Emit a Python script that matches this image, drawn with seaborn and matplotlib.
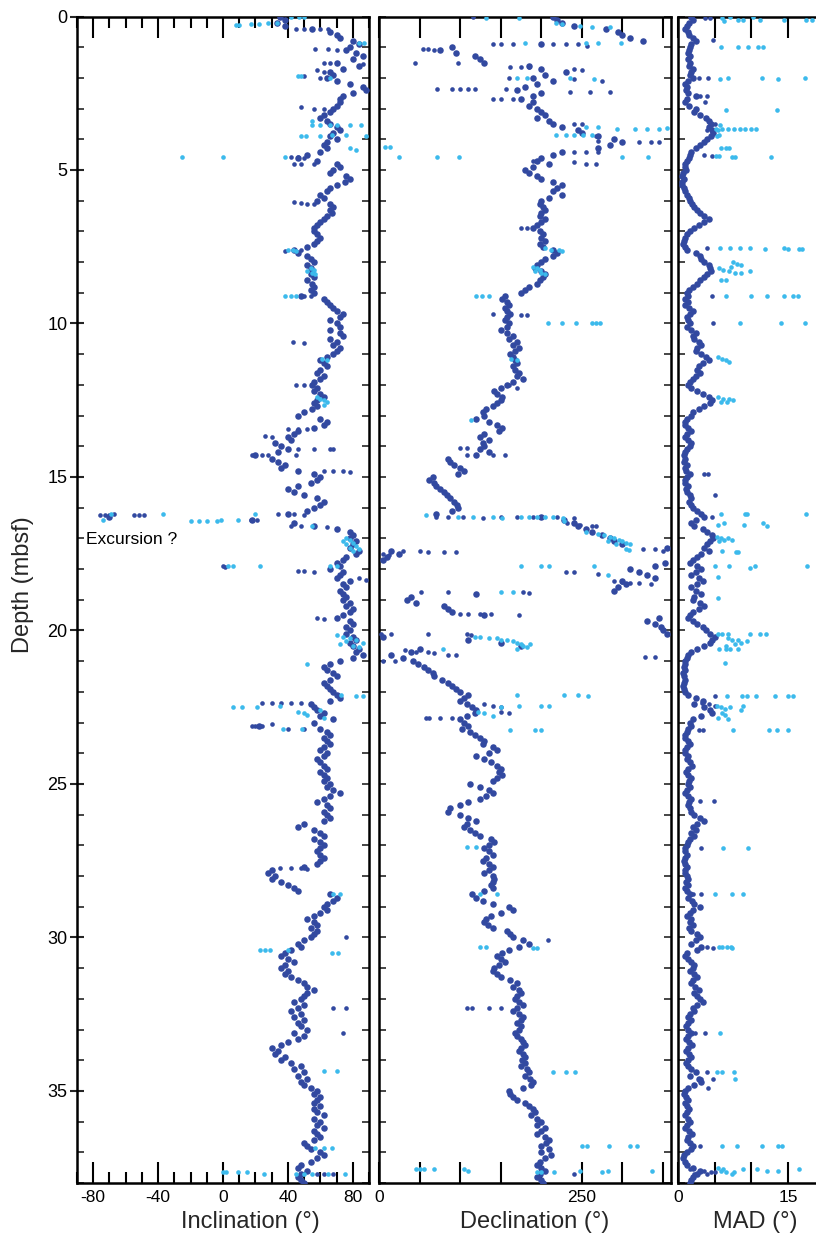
import numpy as np
import pandas as pd
import matplotlib
matplotlib.use("Agg")
import matplotlib.pyplot as plt
import seaborn as sns
from matplotlib.ticker import MultipleLocator, FixedLocator

sns.set_theme(style="white")
plt.rcParams['font.family'] = ['Liberation Sans Narrow', 'Liberation Sans', 'DejaVu Sans']
plt.rcParams['axes.unicode_minus'] = False

DARK = "#3249A0"
LIGHT = "#3CBAEC"

# ---------------- data ----------------
depth = np.round(np.arange(381) * 0.1, 1)

inclination = [
    35, 38, 33, 38, 55, 66, 70, 72, 80, 84,
    78, 76, 82, 86, 80, 70, 84, 74, 66, 68,
    64, 70, 78, 86, 88, 80, 74, 72, 72, 70,
    68, 66, 62, 60, 64, 66, 70, 72, 68, 66,
    70, 64, 62, 64, 60, 52, 46, 58, 70, 72,
    68, 66, 76, 78, 75, 70, 66, 64, 60, 62,
    58, 66, 68, 66, 67, 64, 62, 60, 58, 56,
    56, 58, 60, 58, 56, 52, 44, 46, 52, 54,
    56, 52, 54, 55, 54, 56, 52, 55, 56, 54,
    56, 48, 62, 64, 66, 68, 70, 74, 72, 66,
    70, 72, 66, 72, 74, 66, 70, 68, 72, 70,
    68, 64, 60, 62, 64, 60, 58, 62, 60, 56,
    55, 58, 56, 60, 62, 58, 56, 58, 55, 50,
    46, 60, 64, 62, 56, 46, 44, 40, 42, 32,
    36, 40, 34, 20, 30, 34, 38, 36, 46, 56,
    60, 58, 54, 46, 40, 44, 50, 58, 62, 60,
    56, 52, 40, -70, 18, 44, 56, 70, 78, 80,
    78, 82, 80, 78, 84, 82, 76, 74, 70, 72,
    66, 74, 72, 70, 78, 74, 76, 72, 74, 76,
    74, 78, 76, 80, 78, 74, 70, 78, 80, 76,
    78, 76, 80, 82, 78, 80, 84, 82, 86, 80,
    72, 66, 62, 64, 68, 70, 66, 62, 64, 66,
    68, 70, 72, 66, 54, 56, 58, 62, 60, 68,
    56, 22, 60, 64, 66, 62, 64, 66, 62, 60,
    64, 62, 58, 60, 62, 64, 60, 62, 64, 62,
    66, 64, 68, 72, 66, 62, 58, 64, 66, 62,
    64, 66, 62, 50, 46, 56, 60, 62, 56, 60,
    62, 60, 58, 60, 62, 60, 58, 50, 30, 28,
    32, 30, 36, 40, 44, 46, 66, 70, 68, 64,
    62, 64, 60, 56, 52, 56, 58, 54, 58, 56,
    54, 50, 46, 48, 42, 38, 36, 40, 44, 38,
    36, 40, 38, 42, 46, 50, 52, 56, 52, 50,
    48, 44, 50, 46, 42, 48, 44, 50, 46, 48,
    52, 44, 50, 46, 40, 36, 30, 34, 32, 38,
    36, 42, 48, 44, 50, 46, 52, 48, 50, 54,
    58, 56, 60, 58, 56, 60, 56, 58, 62, 56,
    60, 58, 62, 56, 58, 60, 56, 50, 52, 54,
    60, 62, 58, 54, 48, 46, 52, 48, 46, 48,
    50]

declination = [
    215, 220, 225, 240, 280, 295, 300, 310, 325, 200,
    90, 75, 95, 118, 125, 130, 185, 200, 230, 205,
    190, 215, 195, 180, 170, 200, 190, 175, 190, 185,
    195, 200, 205, 195, 210, 215, 225, 245, 250, 270,
    290, 300, 285, 270, 225, 215, 200, 195, 210, 190,
    180, 185, 195, 200, 215, 225, 220, 215, 225, 210,
    200, 198, 202, 205, 200, 198, 205, 200, 195, 190,
    198, 202, 200, 205, 198, 202, 215, 220, 215, 205,
    200, 195, 192, 200, 205, 202, 198, 195, 185, 180,
    175, 155, 152, 158, 160, 155, 158, 162, 158, 155,
    160, 158, 150, 158, 165, 160, 170, 165, 172, 168,
    162, 165, 168, 170, 165, 168, 172, 170, 178, 165,
    158, 150, 142, 145, 152, 150, 145, 140, 132, 128,
    130, 120, 135, 145, 152, 148, 130, 125, 135, 128,
    130, 125, 135, 120, 85, 88, 92, 100, 105, 98,
    66, 62, 68, 70, 75, 80, 84, 88, 92, 96,
    98, 90, 70, 200, 228, 240, 245, 255, 262, 275,
    285, 290, 300, 355, 15, 25, 10, 5, 352, 340,
    310, 320, 330, 340, 300, 305, 295, 290, 120, 40,
    35, 45, 80, 85, 90, 130, 345, 330, 340, 348,
    350, 355, 5, 110, 150, 175, 50, 40, 15, 30,
    42, 48, 56, 60, 66, 68, 78, 85, 90, 95,
    100, 110, 105, 100, 108, 115, 120, 118, 108, 100,
    105, 110, 102, 112, 118, 125, 130, 128, 140, 145,
    135, 120, 130, 138, 145, 150, 148, 152, 145, 140,
    112, 125, 135, 140, 132, 125, 110, 100, 88, 85,
    100, 110, 120, 108, 105, 112, 118, 125, 138, 142,
    135, 130, 135, 140, 132, 128, 135, 140, 135, 130,
    140, 142, 140, 138, 140, 130, 115, 120, 128, 140,
    160, 165, 150, 138, 132, 130, 134, 140, 158, 162,
    165, 178, 185, 172, 160, 152, 145, 150, 155, 148,
    142, 140, 145, 150, 162, 170, 165, 172, 175, 170,
    168, 172, 178, 170, 165, 172, 178, 175, 170, 175,
    172, 168, 170, 175, 178, 180, 175, 172, 178, 180,
    176, 180, 175, 182, 185, 180, 186, 190, 188, 178,
    160, 162, 165, 170, 180, 185, 190, 192, 188, 195,
    200, 195, 205, 200, 195, 205, 210, 206, 200, 210,
    200, 212, 205, 198, 195, 200, 205, 198, 195, 200,
    202]

mad = [
    1.8, 2.0, 1.5, 1.2, 1.0, 1.3, 1.5, 2.0, 2.4, 1.8,
    1.6, 1.5, 1.4, 1.6, 1.4, 1.7, 1.5, 2.0, 1.8, 1.6,
    2.0, 1.4, 1.0, 1.2, 1.1, 1.3, 2.5, 1.2, 1.0, 1.5,
    2.4, 2.2, 3.0, 3.8, 4.2, 4.5, 4.2, 4.6, 4.8, 4.5,
    4.0, 3.5, 3.0, 2.4, 1.8, 1.6, 1.5, 1.2, 1.0, 0.9,
    1.1, 0.7, 0.6, 0.8, 0.6, 0.5, 0.8, 1.0, 1.2, 1.5,
    1.7, 1.9, 2.2, 2.6, 3.0, 3.6, 4.2, 3.5, 2.8, 2.2,
    1.6, 1.2, 1.0, 0.8, 0.7, 0.9, 1.2, 2.4, 3.0, 3.2,
    3.6, 4.2, 4.4, 4.5, 4.0, 3.6, 3.0, 2.6, 2.0, 1.5,
    1.2, 1.4, 1.0, 1.3, 1.0, 1.5, 2.0, 1.6, 1.2, 1.4,
    1.6, 1.2, 1.8, 2.4, 2.0, 2.2, 2.8, 3.2, 2.6, 2.4,
    3.2, 3.8, 4.2, 3.4, 2.8, 2.6, 3.0, 2.4, 2.0, 1.6,
    1.4, 1.8, 2.6, 3.4, 4.2, 4.6, 4.4, 3.6, 2.8, 2.0,
    1.8, 1.2, 1.0, 0.9, 1.4, 1.8, 1.2, 1.0, 1.3, 1.8,
    1.6, 1.2, 0.9, 0.8, 1.0, 0.8, 1.2, 0.9, 1.1, 1.6,
    1.2, 1.0, 1.0, 1.4, 1.1, 1.2, 1.6, 1.8, 1.5, 1.8,
    2.0, 2.6, 3.2, 3.6, 2.4, 1.8, 2.2, 3.4, 4.0, 4.6,
    4.8, 4.4, 4.0, 3.6, 4.2, 3.2, 2.6, 2.0, 1.6, 2.6,
    3.2, 2.4, 1.8, 2.8, 3.4, 2.6, 1.8, 2.4, 3.2, 2.2,
    2.0, 3.0, 3.6, 2.8, 2.0, 1.6, 1.4, 2.0, 2.6, 3.4,
    3.8, 4.4, 5.0, 4.6, 4.4, 3.6, 2.6, 1.8, 1.4, 1.2,
    1.0, 0.9, 0.8, 0.9, 0.7, 0.8, 1.0, 0.8, 0.7, 0.8,
    1.0, 1.4, 2.4, 3.4, 2.2, 3.6, 4.4, 4.6, 3.2, 2.0,
    1.6, 1.8, 1.4, 1.2, 0.9, 1.0, 1.3, 1.6, 1.2, 0.9,
    1.0, 1.4, 1.2, 1.6, 1.9, 1.4, 1.1, 1.4, 1.8, 1.5,
    1.3, 1.6, 1.2, 1.0, 1.4, 1.8, 1.5, 1.3, 1.6, 1.8,
    2.2, 3.0, 3.6, 2.6, 2.0, 2.4, 1.8, 2.2, 1.6, 1.4,
    1.2, 1.0, 0.9, 1.2, 1.0, 0.8, 1.0, 1.2, 0.9, 1.0,
    1.2, 1.4, 1.1, 1.3, 1.0, 1.2, 1.6, 1.4, 1.9, 2.2,
    3.0, 2.0, 1.6, 1.2, 1.8, 1.6, 2.0, 1.5, 1.8, 2.6,
    3.0, 2.4, 1.8, 3.2, 2.6, 1.2, 1.0, 1.4, 1.8, 2.2,
    2.0, 1.6, 2.2, 2.6, 2.0, 1.8, 2.3, 2.8, 2.2, 2.6,
    3.0, 3.4, 2.6, 2.0, 2.2, 1.6, 1.4, 1.8, 1.4, 1.1,
    1.4, 1.8, 1.3, 1.1, 1.5, 1.9, 1.4, 1.1, 1.5, 1.8,
    1.4, 1.1, 1.4, 1.8, 2.4, 1.6, 2.8, 3.2, 2.2, 1.4,
    1.0, 0.8, 1.1, 1.3, 1.0, 1.2, 1.5, 1.2, 1.0, 1.4,
    1.6, 1.2, 1.0, 1.5, 1.9, 1.4, 1.2, 1.6, 2.0, 1.8,
    1.2, 0.8, 0.7, 0.9, 1.2, 2.0, 3.0, 2.6, 2.0, 1.8,
    1.6]

# additional (unflagged) scattered samples
inc_extra_depth = [0.4, 0.4, 0.4, 0.42, 1.05, 1.05, 1.1, 1.5, 1.5, 1.55, 1.75, 1.8, 1.95, 2.0,
                   2.95, 3.0, 3.0, 4.58, 4.58, 4.6, 4.8, 4.8, 4.8, 6.05, 6.08, 6.1, 6.1,
                   7.65, 7.6, 9.1, 9.1, 10.6, 10.65, 12.0, 12.0, 13.45, 13.45, 13.45, 13.65, 13.7,
                   14.1, 14.1, 14.1, 14.1, 14.3, 14.3, 14.3, 14.3, 14.8, 14.8, 14.8, 14.85,
                   16.2, 16.2, 16.25, 16.23, 16.23, 16.23, 16.22, 16.25, 16.25, 16.25, 16.4, 16.4,
                   16.6, 16.6, 16.62, 17.9, 17.92, 18.05, 18.05, 18.1, 18.3, 18.35, 19.6, 19.62,
                   22.35, 22.35, 22.35, 22.35, 22.35, 23.1, 23.1, 23.12, 23.05, 23.2, 23.2,
                   27.75, 27.75, 27.75, 27.78, 30.0, 32.3, 32.3, 33.1, 37.7, 37.7, 37.7]
inc_extra_value = [45, 50, 60, 65, 57, 65, 70, 62, 66, 86, 58, 62, 50, 60,
                   48, 56, 62, 42, 46, 50, 44, 48, 56, 44, 48, 52, 56,
                   38, 48, 50, 54, 43, 50, 45, 50, 40, 46, 52, 26, 30,
                   46, 56, 66, 68, 18, 24, 28, 45, 62, 68, 74, 78,
                   34, 44, 50, -76, -73, -70, -67, -55, -52, -49, 17, 21,
                   42, 48, 64, 0, 1, 46, 50, 56, 84, 88, 58, 62,
                   24, 30, 36, 42, 48, 18, 20, 24, 30, 40, 50,
                   35, 42, 48, 52, 76, 68, 76, 74, 58, 62, 68]

inc_flag_depth = [0.28, 0.28, 0.25, 0.24, 0.2, 0.22, 0.02, 0.02, 0.02, 0.85, 0.85,
                  1.95, 1.95, 2.0, 3.4, 3.55, 3.55, 3.55, 3.55, 3.55, 3.55,
                  3.9, 3.9, 3.9, 3.85, 3.85, 3.9, 4.3, 4.35, 4.58, 4.58, 4.58,
                  7.6, 7.6, 7.65, 8.2, 8.25, 8.3, 8.35, 8.4, 9.1, 9.1, 9.12,
                  11.15, 11.18, 12.4, 12.45, 12.5, 12.55, 12.65,
                  16.2, 16.4, 16.22, 16.2, 16.45, 16.45, 16.45, 16.45, 16.4, 16.4, 16.6,
                  17.0, 17.05, 17.1, 17.15, 17.2, 17.25, 17.3, 17.35, 17.4,
                  17.9, 17.9, 17.9, 17.9, 17.9,
                  20.15, 20.2, 20.25, 20.3, 20.35, 20.4, 20.45, 20.5, 20.55,
                  21.1, 22.1, 22.15, 22.15, 22.5, 22.5, 22.5, 22.45,
                  22.65, 22.7, 22.75, 22.6, 22.85, 23.2, 23.2, 28.6, 28.6,
                  30.4, 30.4, 30.4, 30.4, 30.5, 30.5, 34.35, 34.35,
                  36.85, 36.85, 36.85, 37.65, 37.65, 37.65, 37.65, 37.7, 37.7, 37.7, 37.7, 37.7, 37.7]
inc_flag_value = [8, 10, 17, 22, 28, 33, 42, 47, 50, 84, 87,
                  46, 48, 66, 55, 55, 60, 66, 70, 78, 85,
                  48, 51, 60, 67, 76, 88, 78, 82, -25, 0, 38,
                  40, 43, 45, 54, 56, 52, 55, 57, 38, 42, 45,
                  61, 64, 58, 60, 62, 64, 62,
                  20, -74, -69, -37, -20, -15, -10, -4, -1, 9, 55,
                  76, 78, 74, 80, 76, 82, 78, 84, 80,
                  3, 6, 23, 66, 70,
                  70, 74, 78, 82, 76, 86, 72, 80, 84,
                  52, 73, 82, 86, 6, 12, 21, 35,
                  46, 50, 52, 60, 62, 37, 49, 68, 72,
                  23, 26, 29, 40, 67, 71, 62, 70,
                  57, 62, 67, 0, 2, 9, 15, 25, 45, 50, 55, 65, 75]

dec_extra_depth = [0.02, 0.9, 0.9, 0.9, 0.9, 0.9, 0.9, 0.95, 1.05, 1.05, 1.08, 1.53, 1.53,
                   1.65, 1.65, 1.65, 1.7, 1.75, 2.0, 2.05, 2.1,
                   2.35, 2.35, 2.35, 2.35, 2.35, 2.35, 2.45, 2.45, 2.45, 2.7, 2.7, 2.7,
                   3.5, 3.5, 3.9, 4.05, 4.1, 4.1, 4.1, 4.4, 4.4, 4.42, 4.7, 4.75, 4.8, 4.8,
                   6.9, 6.9, 9.7, 9.72, 9.72, 12.1, 12.0, 14.05, 14.05, 14.3, 14.3, 14.3,
                   16.3, 16.3, 16.32, 16.35, 16.3, 16.3, 16.32, 16.3, 16.33,
                   16.5, 16.55, 16.6, 16.6, 17.4, 17.42, 17.45, 17.45, 17.45,
                   17.35, 17.35, 17.4, 17.5, 17.55, 18.1, 18.1, 18.15,
                   18.4, 18.42, 18.45, 18.47, 18.5, 18.75, 18.75, 18.75, 18.78,
                   19.45, 19.45, 19.45, 19.48, 19.5, 20.1, 20.1, 20.1, 20.12, 20.15,
                   20.85, 20.85, 20.65, 20.7, 20.7, 20.75, 20.8, 20.8, 21.0, 21.0,
                   22.4, 22.45, 22.5, 22.65, 22.7, 22.85, 22.85, 22.85, 22.85,
                   30.1, 32.3, 32.3, 32.3, 32.3, 37.7]
dec_extra_value = [116, 140, 150, 165, 215, 230, 245, 257, 54, 60, 68, 44, 97,
                   162, 175, 185, 240, 250, 160, 240, 275,
                   72, 90, 100, 110, 118, 156, 235, 260, 285, 140, 150, 165,
                   240, 250, 268, 270, 320, 335, 345, 240, 255, 270, 190, 240, 255, 268,
                   175, 182, 140, 175, 182, 170, 160, 100, 108, 108, 140, 155,
                   70, 85, 103, 128, 150, 170, 190, 220, 240,
                   232, 248, 262, 268, 30, 50, 60, 80, 95,
                   325, 340, 350, 5, 12, 230, 240, 270,
                   290, 300, 310, 320, 335, 52, 85, 178, 185,
                   100, 110, 125, 138, 172, 3, 15, 60, 108, 113,
                   328, 340, 32, 45, 60, 68, 85, 95, 5, 20,
                   130, 140, 150, 150, 160, 58, 62, 75, 90,
                   208, 108, 115, 135, 150, 240]

dec_flag_depth = [0.05, 0.05, 0.2, 0.25, 0.3, 0.35, 0.35, 0.85, 0.85, 0.85, 0.85,
                  2.0, 2.0, 2.0, 2.05, 3.6, 3.6, 3.65, 3.65, 3.65, 3.65, 3.62,
                  3.85, 3.85, 3.85, 3.85, 3.85, 4.25, 4.25, 4.58, 4.58, 4.58, 4.58, 4.58,
                  7.55, 7.6, 7.6, 7.65, 8.15, 8.2, 8.25, 8.3, 8.35, 8.4, 9.1, 9.1, 9.12,
                  10.0, 10.0, 10.0, 10.0, 10.0, 10.0, 11.15, 11.2, 13.15,
                  16.25, 16.3, 16.3, 16.3, 16.35, 16.3, 16.3, 16.32, 16.3, 16.3, 16.35, 16.45,
                  16.8, 16.85, 16.9, 16.95, 17.0, 17.05, 17.1, 17.15, 17.2, 17.1, 17.2,
                  17.35, 17.37, 17.9, 17.9, 17.9, 17.9, 18.2, 18.75, 18.75, 20.6,
                  20.2, 20.2, 20.25, 20.25, 20.3, 20.3, 20.35, 20.4, 20.45, 20.5, 20.55, 20.45, 20.6,
                  22.1, 22.1, 22.1, 22.12, 22.45, 22.45, 22.45, 22.5, 22.65, 22.7, 22.8,
                  23.25, 23.25, 23.25, 27.05, 27.05, 28.6, 28.6, 30.3, 30.3, 30.35, 30.35,
                  34.4, 34.4, 34.4, 36.8, 36.8, 36.8, 36.8, 36.8,
                  37.55, 37.55, 37.55, 37.55, 37.55, 37.6, 37.65, 37.65, 37.65, 37.6, 37.65, 37.6, 37.6]
dec_flag_value = [132, 172, 218, 225, 248, 262, 285, 180, 255, 270, 298,
                  170, 182, 235, 265, 255, 270, 293, 315, 330, 345, 355,
                  218, 230, 240, 252, 262, 8, 14, 25, 72, 99, 300, 332,
                  205, 212, 222, 225, 190, 195, 198, 192, 200, 205, 120, 127, 136,
                  208, 225, 243, 263, 268, 273, 163, 170, 114,
                  58, 97, 116, 140, 152, 175, 185, 195, 205, 215, 227, 228,
                  255, 270, 278, 285, 290, 296, 300, 305, 310, 282, 292,
                  305, 308, 175, 200, 210, 265, 282, 150, 165, 79,
                  118, 125, 135, 145, 150, 158, 165, 170, 175, 178, 182, 186, 170,
                  170, 228, 245, 258, 172, 200, 210, 150, 122, 130, 140,
                  162, 192, 200, 109, 120, 125, 145, 124, 132, 190, 195,
                  215, 230, 242, 250, 256, 283, 310, 318,
                  46, 50, 55, 68, 105, 110, 195, 200, 216, 248, 275, 282, 337]

mad_extra_depth = [0.05, 0.05, 0.75, 2.0, 2.0, 2.6, 2.6, 2.8, 3.5, 3.7, 4.5, 4.55, 7.55, 9.1, 10.0,
                   14.9, 14.9, 15.6, 16.3, 22.15, 22.35, 22.4, 22.45, 23.25, 23.25, 25.55, 25.55,
                   27.1, 28.6, 28.6, 30.3, 30.35, 33.1, 33.1, 34.4, 34.4, 34.6, 34.6, 34.9, 36.8,
                   37.55, 37.6, 37.6, 37.65, 37.65, 37.7, 37.7]
mad_extra_value = [3.7, 4.3, 4.8, 2.8, 4.1, 3.0, 3.9, 3.7, 5.0, 3.9, 3.5, 4.6, 4.0, 4.6, 4.8,
                   3.6, 4.1, 5.0, 4.6, 5.0, 3.3, 4.2, 5.0, 2.8, 3.4, 3.0, 4.9,
                   3.2, 2.1, 3.2, 4.0, 4.8, 2.3, 3.7, 2.5, 4.0, 3.2, 4.8, 4.1, 3.0,
                   1.6, 3.0, 3.6, 4.5, 5.0, 2.2, 3.9]

mad_flag_depth = [0.05, 0.0, 0.1, 0.15, 0.1, 0.02, 0.12, 0.12, 0.13, 0.13,
                  1.0, 1.0, 1.0, 1.0, 1.0, 2.05, 2.0, 2.0, 2.05, 2.0, 3.05, 3.05, 3.55,
                  3.65, 3.65, 3.65, 3.68, 3.65, 3.65, 3.65, 3.65, 3.7, 3.85, 3.9,
                  4.3, 4.3, 4.3, 4.55, 4.55, 4.58, 4.58, 4.58,
                  7.55, 7.55, 7.55, 7.55, 7.58, 7.55, 7.58, 7.58, 7.58,
                  8.0, 8.05, 8.1, 8.15, 8.2, 8.25, 8.3, 8.35, 8.35, 8.3, 8.6, 8.6,
                  9.1, 9.1, 9.1, 9.1, 9.1, 9.1, 10.0, 10.0, 10.0,
                  11.1, 11.15, 11.2, 11.25, 12.4, 12.45, 12.45, 12.5, 12.55, 12.55,
                  16.2, 16.2, 16.2, 16.2, 16.55, 16.5, 16.55, 16.5, 16.6,
                  16.95, 17.0, 17.05, 17.0, 17.05, 17.1, 17.4, 17.45, 17.45,
                  17.9, 17.9, 17.95, 17.9, 17.9, 18.25, 18.95,
                  20.1, 20.1, 20.1, 20.1, 20.1, 20.1, 20.25, 20.3, 20.3, 20.35, 20.4, 20.45, 20.5,
                  20.6, 20.6, 20.6, 20.6, 21.05,
                  22.15, 22.15, 22.15, 22.15, 22.15, 22.15, 22.15,
                  22.45, 22.5, 22.55, 22.5, 22.6, 22.45, 22.7, 22.75, 22.85, 22.9,
                  23.25, 23.25, 23.25, 23.25, 27.1, 27.1, 28.6, 28.6, 28.6,
                  30.3, 30.3, 30.3, 30.3, 30.35, 33.1, 34.4, 34.4, 34.4, 34.6,
                  36.8, 36.8, 36.8, 36.8, 36.8,
                  37.5, 37.55, 37.6, 37.65, 37.7, 37.65, 37.55, 37.55, 37.6, 37.6, 37.55]
mad_flag_value = [6.0, 7.1, 8.2, 6.3, 8.9, 10.3, 11.2, 14.4, 17.5, 18.3,
                  5.9, 8.2, 9.5, 10.9, 11.6, 5.7, 6.8, 11.4, 13.7, 17.3, 6.6, 13.5, 5.7,
                  5.2, 6.0, 6.8, 7.6, 8.4, 9.2, 9.9, 10.7, 5.5, 5.6, 5.3,
                  5.8, 6.5, 7.0, 5.2, 5.6, 7.4, 7.8, 12.7,
                  5.7, 7.1, 8.5, 9.8, 11.9, 14.4, 15.0, 16.5, 16.9,
                  7.5, 8.0, 8.6, 7.2, 5.6, 6.2, 7.0, 7.8, 8.6, 9.8, 5.8, 6.5,
                  6.5, 10.0, 12.1, 14.4, 15.7, 16.4, 8.5, 14.1, 17.3,
                  5.5, 6.0, 6.5, 7.0, 5.5, 6.2, 7.0, 7.5, 5.8, 6.7,
                  5.8, 9.2, 9.4, 17.5, 5.4, 6.3, 9.0, 11.6, 12.2,
                  5.3, 5.8, 6.3, 6.8, 7.4, 5.6, 6.0, 7.9, 8.2,
                  5.1, 6.9, 9.8, 10.5, 17.6, 5.5, 5.5,
                  5.5, 6.0, 6.8, 9.8, 11.2, 12.0, 6.8, 7.4, 8.2, 9.4, 8.6, 7.8, 6.5,
                  5.6, 6.5, 7.1, 8.2, 6.4,
                  6.7, 8.7, 9.4, 10.7, 13.2, 15.0, 15.7,
                  5.3, 5.8, 6.4, 7.1, 8.6, 8.8, 6.0, 6.4, 5.5, 6.8,
                  7.5, 12.4, 13.5, 15.0, 6.2, 9.6, 5.1, 7.3, 8.9,
                  5.6, 6.0, 6.7, 7.2, 7.3, 5.7, 5.3, 6.0, 7.6, 7.8,
                  6.0, 8.0, 11.4, 13.7, 14.2,
                  5.5, 6.1, 5.8, 6.5, 7.4, 7.7, 8.9, 10.8, 12.2, 13.6, 16.5]

# ---------------- figure ----------------
W, H = 816, 1235
fig = plt.figure(figsize=(W / 100, H / 100), dpi=100)
TOP, BOT = 16.5, 1183


def add_ax(x0, x1):
    return fig.add_axes([x0 / W, 1 - BOT / H, (x1 - x0) / W, (BOT - TOP) / H])


ax1 = add_ax(77, 369)
ax2 = add_ax(379, 671)
ax3 = add_ax(678, 818)

panels = [
    (ax1, inclination, inc_extra_depth, inc_extra_value, inc_flag_depth, inc_flag_value),
    (ax2, declination, dec_extra_depth, dec_extra_value, dec_flag_depth, dec_flag_value),
    (ax3, mad, mad_extra_depth, mad_extra_value, mad_flag_depth, mad_flag_value),
]

for ax, main, ed, ev, fd, fv in panels:
    main_df = pd.DataFrame({"depth": depth, "value": main})
    sns.scatterplot(data=main_df, x="value", y="depth", ax=ax, color=DARK, s=22,
                    linewidth=0, legend=False, zorder=3)
    sns.scatterplot(x=ev, y=ed, ax=ax, color=DARK, s=11, linewidth=0, legend=False, zorder=3)
    sns.scatterplot(x=fv, y=fd, ax=ax, color=LIGHT, s=11, linewidth=0, legend=False, zorder=4)
    ax.set_ylim(38, 0)
    ax.set_xlabel("")
    ax.set_ylabel("")
    for sp in ax.spines.values():
        sp.set_color("black")
        sp.set_linewidth(1.8)
    ax.tick_params(axis="x", which="both", direction="in", top=True, bottom=True,
                   width=1.5, color="black", labelsize=12.5, pad=5, labelcolor="black")
    ax.tick_params(axis="x", which="major", length=15)
    ax.tick_params(axis="x", which="minor", length=8)
    ax.yaxis.set_major_locator(MultipleLocator(5))
    ax.yaxis.set_minor_locator(MultipleLocator(1))

# Inclination axis
ax1.set_xlim(-90, 90)
ax1.set_xticks([-80, -40, 0, 40, 80])
ax1.xaxis.set_minor_locator(MultipleLocator(10))
ax1.tick_params(axis="y", which="major", direction="inout", length=10, width=1.5,
                left=True, right=False, labelsize=13, pad=2, labelcolor="black")
ax1.tick_params(axis="y", which="minor", direction="in", length=5, width=1.2,
                left=True, right=False)
sec = ax1.secondary_yaxis("right")
sec.yaxis.set_major_locator(MultipleLocator(1))
sec.tick_params(axis="y", direction="in", length=5, width=1.2, labelright=False)
sec.spines["right"].set_visible(False)

# Declination axis
ax2.set_xlim(0, 360)
ax2.xaxis.set_major_locator(FixedLocator([0, 50, 100, 150, 200, 250, 300, 350]))
ax2.set_xticklabels(["0", "", "", "", "", "250", "", ""])
# MAD axis
ax3.set_xlim(0, 19.1)
ax3.xaxis.set_major_locator(FixedLocator([0, 5, 10, 15]))
ax3.set_xticklabels(["0", "", "", "15"])
ax3.spines["right"].set_visible(False)

for ax in (ax2, ax3):
    ax.tick_params(axis="y", which="both", direction="in", length=5, width=1.2,
                   left=True, right=(ax is ax2), labelleft=False)

ax1.text(-84.5, 17.05, "Excursion ?", fontsize=12.5, ha="left", va="center", color="black")

fig.text(23 / W, 1 - 585 / H, "Depth (mbsf)", rotation=90, ha="center", va="center", fontsize=17)
fig.text(250 / W, 1 - 1222 / H, "Inclination (°)", ha="center", va="center", fontsize=17)
fig.text(535 / W, 1 - 1222 / H, "Declination (°)", ha="center", va="center", fontsize=17)
fig.text(755 / W, 1 - 1222 / H, "MAD (°)", ha="center", va="center", fontsize=17)

fig.savefig("out.png", dpi=100)
